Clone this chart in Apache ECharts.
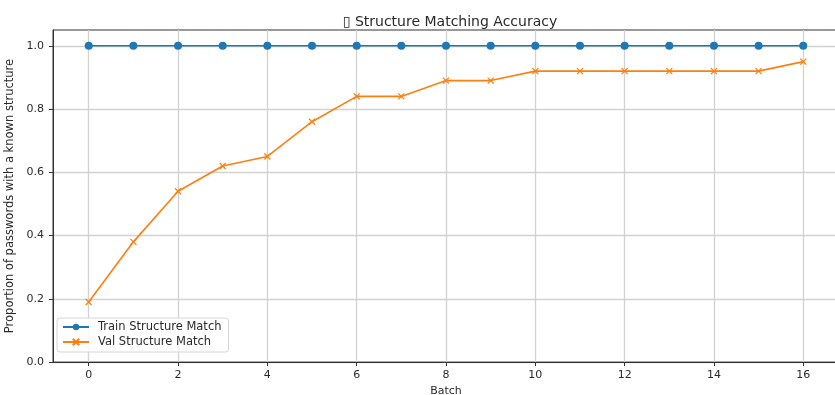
<!DOCTYPE html>
<html>
<head>
<meta charset="utf-8">
<script src="https://cdn.jsdelivr.net/npm/echarts@6/dist/echarts.min.js"></script>
<style>
  html, body { margin: 0; padding: 0; background: #fff; }
  #chart { width: 835px; height: 395px; }
</style>
</head>
<body>
<div id="chart"></div>
<script>
// Batch indices and per-batch structure match rates
const batches = [0, 1, 2, 3, 4, 5, 6, 7, 8, 9, 10, 11, 12, 13, 14, 15, 16];
const trainMatch = [1.0, 1.0, 1.0, 1.0, 1.0, 1.0, 1.0, 1.0, 1.0, 1.0, 1.0, 1.0, 1.0, 1.0, 1.0, 1.0, 1.0];
const valMatch = [0.19, 0.38, 0.54, 0.62, 0.65, 0.76, 0.84, 0.84, 0.89, 0.89, 0.92, 0.92, 0.92, 0.92, 0.92, 0.92, 0.95];
const xTicks = [0, 2, 4, 6, 8, 10, 12, 14, 16];
const yTicks = [0.0, 0.2, 0.4, 0.6, 0.8, 1.0];

const BLUE = '#1f77b4';
const ORANGE = '#ff7f0e';
const GRID = '#d2d2d2';
const FONT = 'DejaVu Sans';
const TEXT = '#2a2a2a';

const chart = echarts.init(document.getElementById('chart'), null, { renderer: 'canvas' });

// x-shaped marker drawn as two strokes
const crossPath = 'path://M0,0L10,10M10,0L0,10';

chart.setOption({
  animation: false,
  backgroundColor: '#fff',
  textStyle: { fontFamily: FONT },
  title: {
    text: '\u25AF Structure Matching Accuracy',
    left: 445,
    top: 10,
    textAlign: 'center',
    textStyle: { fontFamily: FONT, fontSize: 14, fontWeight: 'normal', color: TEXT }
  },
  grid: {
    left: 53, top: 30, right: -4, bottom: 33,
    show: true, borderColor: '#333', borderWidth: 1,
    containLabel: false, outerBoundsMode: 'none'
  },
  legend: {
    orient: 'vertical',
    left: 57, top: 318,
    padding: [3, 7, 4, 5],
    itemGap: 3,
    itemWidth: 26, itemHeight: 8,
    backgroundColor: 'rgba(255,255,255,0.85)',
    borderColor: '#d6d6d6', borderWidth: 1, borderRadius: 3,
    textStyle: { fontFamily: FONT, fontSize: 11.5, color: TEXT, padding: [0, 0, 0, 4] },
    data: ['Train Structure Match', 'Val Structure Match']
  },
  xAxis: {
    type: 'value',
    min: -0.8, max: 16.8,
    name: 'Batch',
    nameLocation: 'middle',
    nameGap: 23,
    nameTextStyle: { fontFamily: FONT, fontSize: 11, color: TEXT },
    axisLine: { show: true, onZero: false, lineStyle: { color: '#333', width: 1 } },
    axisTick: { show: true, inside: false, length: 4, customValues: xTicks, lineStyle: { color: '#333' } },
    axisLabel: { customValues: xTicks, fontFamily: FONT, fontSize: 11, color: TEXT, margin: 8 },
    splitLine: { show: false }
  },
  yAxis: {
    type: 'value',
    min: 0, max: 1.05, interval: 0.2,
    name: 'Proportion of passwords with a known structure',
    nameLocation: 'middle',
    nameGap: 32,
    nameTextStyle: { fontFamily: FONT, fontSize: 11.5, color: TEXT },
    axisLine: { show: true, onZero: false, lineStyle: { color: '#333', width: 1 } },
    axisTick: { show: true, inside: false, length: 4, customValues: yTicks, lineStyle: { color: '#333' } },
    axisLabel: {
      customValues: yTicks,
      fontFamily: FONT, fontSize: 11, color: TEXT, margin: 9,
      formatter: v => v.toFixed(1)
    },
    splitLine: { show: true, lineStyle: { color: GRID, width: 1.3 } }
  },
  series: [
    {
      name: 'Train Structure Match',
      type: 'line',
      data: batches.map((b, i) => [b, trainMatch[i]]),
      symbol: 'circle',
      symbolSize: 8,
      lineStyle: { color: BLUE, width: 1.6 },
      itemStyle: { color: BLUE },
      z: 3,
      // vertical grid lines at the labelled batches
      markLine: {
        silent: true,
        symbol: ['none', 'none'],
        label: { show: false },
        lineStyle: { color: GRID, width: 1.3, type: 'solid' },
        z: 1,
        data: xTicks.map(v => ({ xAxis: v }))
      }
    },
    {
      name: 'Val Structure Match',
      type: 'line',
      data: batches.map((b, i) => [b, valMatch[i]]),
      symbol: crossPath,
      symbolSize: 6,
      lineStyle: { color: ORANGE, width: 1.6 },
      itemStyle: { color: ORANGE, borderColor: ORANGE, borderWidth: 1.3 },
      z: 4
    }
  ]
});
</script>
</body>
</html>
